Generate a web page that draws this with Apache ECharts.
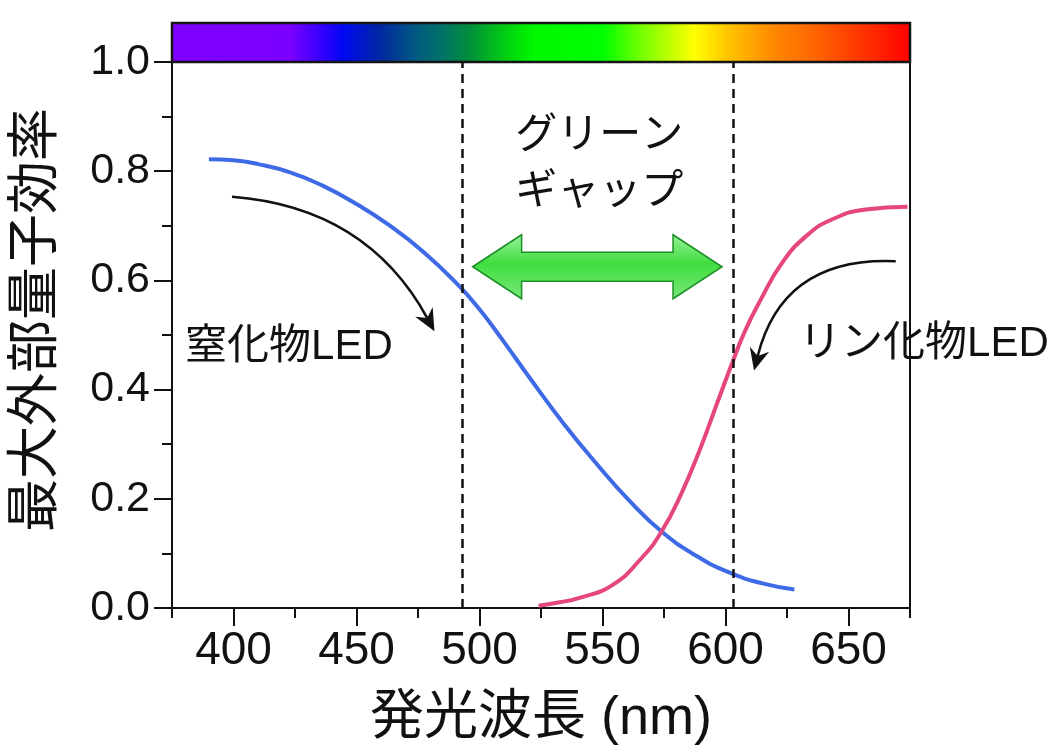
<!DOCTYPE html>
<html>
<head>
<meta charset="utf-8">
<script src="https://cdn.jsdelivr.net/npm/echarts@6/dist/echarts.min.js"></script>
<style>
  html, body { margin: 0; padding: 0; background: #ffffff; }
  #chart { width: 1056px; height: 751px; }
</style>
</head>
<body>
<div id="chart"></div>
<script>
const FONT = '"Liberation Sans", Arial, "Noto Sans CJK JP", sans-serif';

// Wavelength axis (nm)
const xMin = 375;
const xMax = 675;
const xMajorTicks = [400, 450, 500, 550, 600, 650];
const xMinorTicks = [375, 425, 475, 525, 575, 625, 675];

// Efficiency axis
const yMin = 0;
const yMax = 1;
const yStep = 0.2;

// Nitride LEDs: maximum external quantum efficiency vs emission wavelength
const nitrideWavelength = [390, 400, 410, 423, 436, 450, 463, 477, 491, 500, 510, 520, 534, 548, 561, 574, 588, 601, 615, 628];
const nitrideEQE        = [0.822, 0.820, 0.813, 0.798, 0.774, 0.740, 0.702, 0.653, 0.593, 0.547, 0.487, 0.424, 0.339, 0.262, 0.196, 0.140, 0.096, 0.066, 0.045, 0.034];

// Phosphide LEDs
const phosphideWavelength = [524, 532, 541, 554, 566, 574, 582, 590, 597, 603, 608, 614, 623, 633, 643, 657, 674];
const phosphideEQE        = [0.004, 0.010, 0.019, 0.042, 0.092, 0.140, 0.209, 0.295, 0.380, 0.452, 0.508, 0.562, 0.632, 0.682, 0.711, 0.730, 0.735];

// Green-gap boundaries (nm)
const gapBounds = [493, 603];

// Visible spectrum strip
const spectrumNm    = [375, 423, 437, 445, 460, 475, 484, 495, 511, 522, 550, 565, 587, 602, 618, 638, 657, 675];
const spectrumColor = ['#7f00ff', '#7c00ff', '#3000ff', '#0008f0', '#0028a0', '#005c80', '#00706a', '#008c40', '#00d010', '#00f800', '#00ff00', '#70ff00', '#ffff00', '#ffc000', '#ff8c00', '#ff6000', '#ff3000', '#ff0000'];

// Curved annotation arrows: start (nm, eqe), control point, end
const nitrideArrow   = [399.4, 0.753, 454, 0.734, 481.7, 0.507];
const phosphideArrow = [669.2, 0.635, 623.4, 0.644, 611.6, 0.435];

// Double arrow across the green gap: left nm, right nm, eqe level
const gapArrow = [497.2, 598.6, 0.625];

// Text annotations
const labelTexts = ['窒化物LED', 'リン化物LED', 'グリーン\nギャップ'];
const labelNm    = [380.3, 629.9, 514.5];
const labelEQE   = [0.478, 0.482, 0.813];

const axisColor = '#111111';

const chart = echarts.init(document.getElementById('chart'), null, { renderer: 'canvas' });

const spectrumGradient = new echarts.graphic.LinearGradient(0, 0, 1, 0,
  spectrumNm.map((nm, i) => ({ offset: (nm - xMin) / (xMax - xMin), color: spectrumColor[i] })));

const option = {
  backgroundColor: '#ffffff',
  animation: false,
  textStyle: { fontFamily: FONT },
  grid: { left: 172, right: 146, top: 62, bottom: 139, containLabel: false },
  xAxis: [
    {
      type: 'value', min: xMin, max: xMax,
      axisLine: { show: true, onZero: false, lineStyle: { color: axisColor, width: 2 } },
      axisTick: { show: true, customValues: xMajorTicks, length: 18, lineStyle: { color: axisColor, width: 2 } },
      axisLabel: { customValues: xMajorTicks, fontSize: 46, color: '#111', margin: 20, fontFamily: FONT },
      splitLine: { show: false },
      name: '発光波長 (nm)', nameLocation: 'middle', nameGap: 84,
      nameTextStyle: { fontSize: 54, color: '#111', fontFamily: FONT }
    },
    {
      type: 'value', min: xMin, max: xMax, position: 'bottom',
      axisLine: { show: false },
      axisTick: { show: true, customValues: xMinorTicks, length: 10, lineStyle: { color: axisColor, width: 2 } },
      axisLabel: { show: false },
      splitLine: { show: false }
    }
  ],
  yAxis: [
    {
      type: 'value', min: yMin, max: yMax, interval: yStep,
      axisLine: { show: true, onZero: false, lineStyle: { color: axisColor, width: 2 } },
      axisTick: { show: true, length: 18, lineStyle: { color: axisColor, width: 2 } },
      minorTick: { show: true, splitNumber: 2, length: 10, lineStyle: { color: axisColor, width: 2 } },
      axisLabel: { formatter: v => v.toFixed(1), fontSize: 43, color: '#111', margin: 22, fontFamily: FONT },
      splitLine: { show: false },
      minorSplitLine: { show: false },
      name: '最大外部量子効率', nameLocation: 'middle', nameGap: 108, nameRotate: 90,
      nameTextStyle: { fontSize: 53, color: '#111', fontFamily: FONT, padding: [0, 0, 0, 30] }
    },
    {
      type: 'value', min: yMin, max: yMax, position: 'right',
      axisLine: { show: true, lineStyle: { color: axisColor, width: 2 } },
      axisTick: { show: false }, axisLabel: { show: false }, splitLine: { show: false }
    }
  ],
  series: [
    {
      name: 'spectrum', type: 'custom', clip: false, silent: true,
      data: [[xMin, xMax]],
      renderItem: (params, api) => {
        const p0 = api.coord([api.value(0), yMax]);
        const p1 = api.coord([api.value(1), yMax]);
        const h = 39;
        return {
          type: 'rect',
          shape: { x: p0[0], y: p0[1] - h, width: p1[0] - p0[0], height: h },
          style: { fill: spectrumGradient, stroke: '#151515', lineWidth: 2.5 }
        };
      }
    },
    {
      name: '窒化物LED', type: 'line', smooth: 0.5, showSymbol: false, silent: true,
      data: nitrideWavelength.map((w, i) => [w, nitrideEQE[i]]),
      lineStyle: { color: '#3f6ae6', width: 4 },
      markLine: {
        silent: true, symbol: ['none', 'none'], label: { show: false },
        lineStyle: { color: '#111', width: 2.5, type: [9, 6] },
        data: gapBounds.map(v => ({ xAxis: v }))
      }
    },
    {
      name: 'リン化物LED', type: 'line', smooth: 0.5, showSymbol: false, silent: true,
      data: phosphideWavelength.map((w, i) => [w, phosphideEQE[i]]),
      lineStyle: { color: '#e4467d', width: 4 }
    },
    {
      name: 'arrows', type: 'custom', clip: false, silent: true,
      data: [nitrideArrow, phosphideArrow],
      renderItem: (params, api) => {
        const s = api.coord([api.value(0), api.value(1)]);
        const c = api.coord([api.value(2), api.value(3)]);
        const e = api.coord([api.value(4), api.value(5)]);
        let dx = e[0] - c[0], dy = e[1] - c[1];
        const L = Math.hypot(dx, dy); dx /= L; dy /= L;
        const len = 22, hw = 10, notch = 7;
        const bx = e[0] - dx * len, by = e[1] - dy * len;
        const nx = -dy, ny = dx;
        const np = [e[0] - dx * (len - notch), e[1] - dy * (len - notch)];
        return {
          type: 'group',
          children: [
            { type: 'bezierCurve',
              shape: { x1: s[0], y1: s[1], x2: np[0], y2: np[1], cpx1: c[0], cpy1: c[1] },
              style: { stroke: '#111', lineWidth: 2.5, fill: null } },
            { type: 'polygon',
              shape: { points: [[e[0], e[1]], [bx + nx * hw, by + ny * hw], np, [bx - nx * hw, by - ny * hw]] },
              style: { fill: '#111' } }
          ]
        };
      }
    },
    {
      name: 'gap', type: 'custom', clip: false, silent: true,
      data: [gapArrow],
      renderItem: (params, api) => {
        const l = api.coord([api.value(0), api.value(2)]);
        const r = api.coord([api.value(1), api.value(2)]);
        const y = l[1], head = 49, hh = 32, sh = 14.5;
        const pts = [
          [l[0], y], [l[0] + head, y - hh], [l[0] + head, y - sh], [r[0] - head, y - sh], [r[0] - head, y - hh],
          [r[0], y], [r[0] - head, y + hh], [r[0] - head, y + sh], [l[0] + head, y + sh], [l[0] + head, y + hh]
        ];
        return {
          type: 'polygon', shape: { points: pts },
          style: {
            fill: new echarts.graphic.LinearGradient(0, 0, 0, 1, [
              { offset: 0, color: '#9af29a' }, { offset: 0.45, color: '#40dd40' }, { offset: 1, color: '#7ae87a' }
            ]),
            stroke: '#1c8f26', lineWidth: 1.5
          }
        };
      }
    },
    {
      name: 'labels', type: 'scatter', silent: true, symbolSize: 0,
      itemStyle: { opacity: 1 },
      data: labelTexts.map((t, i) => ({ name: t, value: [labelNm[i], labelEQE[i]] })),
      label: {
        show: true, position: [0, 0], align: 'left', verticalAlign: 'middle', opacity: 1,
        formatter: '{b}', fontSize: 42, lineHeight: 56, color: '#111', fontFamily: FONT
      }
    }
  ]
};

chart.setOption(option);
</script>
</body>
</html>
